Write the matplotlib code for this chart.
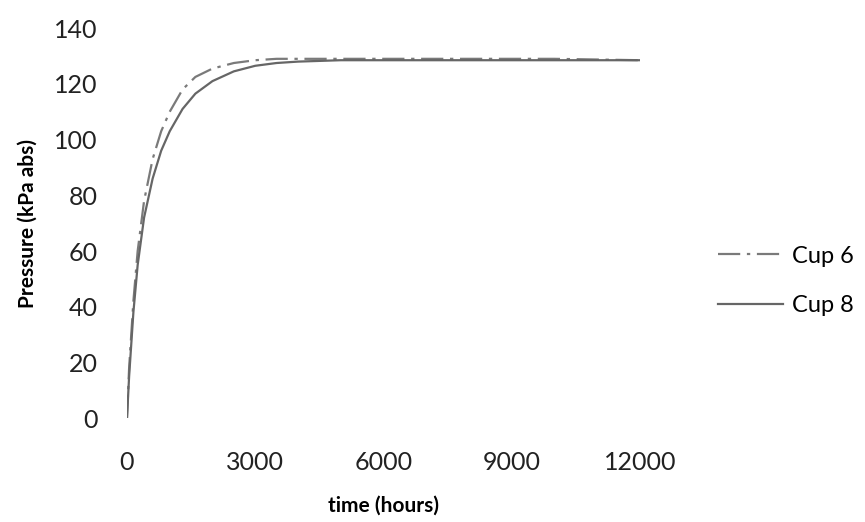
import matplotlib
matplotlib.use('Agg')
import matplotlib.pyplot as plt

# data
hours = [0, 50, 150, 250, 400, 600, 800, 1000, 1300, 1600, 2000, 2500,
         3000, 3500, 4000, 5000, 6000, 8000, 10000, 12000]
cup6 = [0, 18, 42, 60, 78, 93, 103, 110, 118, 122.5, 125.5, 127.5,
        128.5, 129, 129, 129, 129, 129, 129, 128.5]
cup8 = [0, 15, 38, 55, 72, 86, 96, 103, 111, 116.5, 121, 124.5,
        126.5, 127.5, 128, 128.5, 128.5, 128.5, 128.5, 128.5]

xticks = [0, 3000, 6000, 9000, 12000]
yticks = [0, 20, 40, 60, 80, 100, 120, 140]

plt.rcParams['font.family'] = ['Lato', 'DejaVu Sans']

fig = plt.figure(figsize=(8.65, 5.22), dpi=100)
ax = fig.add_axes([0.1468, 0.199, 0.593, 0.747])

l6, = ax.plot(hours, cup6, color='#7a7a7a', lw=1.6, dashes=[10, 3, 1.5, 3])
l8, = ax.plot(hours, cup8, color='#666666', lw=1.6)

ax.set_xlim(0, 12000)
ax.set_ylim(0, 140)
ax.set_xticks(xticks)
ax.set_yticks(yticks)
for s in ax.spines.values():
    s.set_visible(False)
ax.tick_params(axis='both', length=0, labelsize=18, colors='#222222')
ax.tick_params(axis='y', pad=21)
ax.tick_params(axis='x', pad=24)

ax.set_xlabel('time (hours)', fontsize=15, fontweight='bold', labelpad=15)
ax.set_ylabel('Pressure (kPa abs)', fontsize=15, fontweight='bold', labelpad=12)

fig.legend([l6, l8], ['Cup 6', 'Cup 8'], loc='center left',
           bbox_to_anchor=(0.819, 0.462), frameon=False, fontsize=17,
           handlelength=2.75, labelspacing=1.2, handletextpad=0.4,
           borderaxespad=0)

plt.savefig('out.png', dpi=100)
